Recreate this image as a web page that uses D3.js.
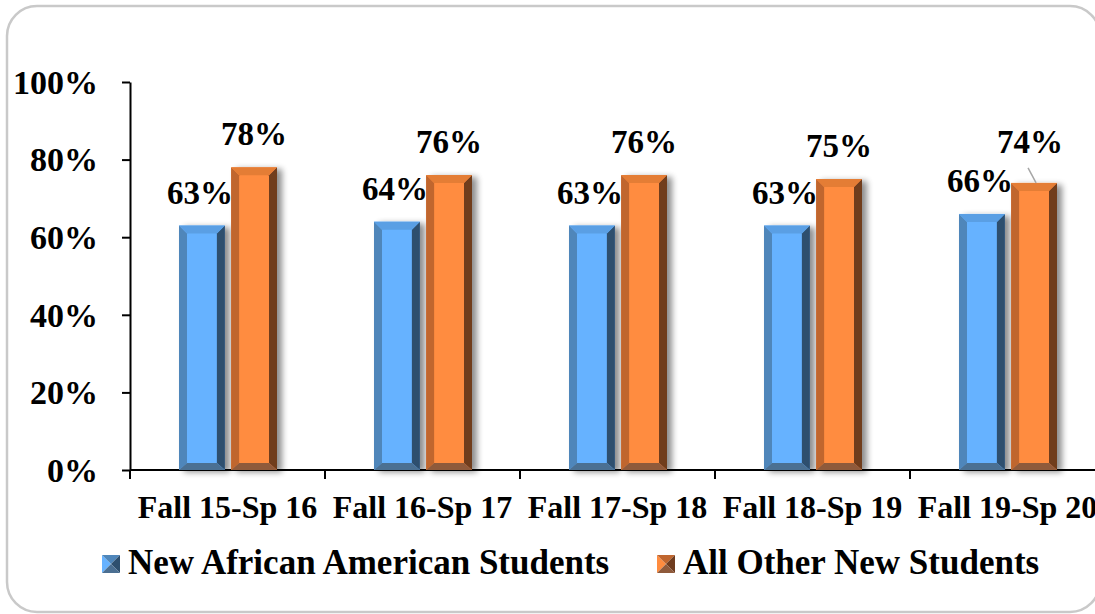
<!DOCTYPE html>
<html>
<head>
<meta charset="utf-8">
<script src="https://cdn.jsdelivr.net/npm/d3@7"></script>
<style>
  html, body { margin: 0; padding: 0; background: #ffffff; }
  svg { display: block; }
  text { font-family: "Liberation Serif", "Times New Roman", serif; font-weight: bold; fill: #000; }
</style>
</head>
<body>
<svg id="chart" width="1095" height="614"></svg>
<script>
// Retention rates by academic year
const categories = ["Fall 15-Sp 16", "Fall 16-Sp 17", "Fall 17-Sp 18", "Fall 18-Sp 19", "Fall 19-Sp 20"];
const seriesNames = ["New African American Students", "All Other New Students"];
const africanAmerican = [63, 64, 63, 63, 66];
const allOther = [78, 76, 76, 75, 74];
const yTicks = [0, 20, 40, 60, 80, 100];

// Bevelled bar palettes: face, left, right, top, bottom
const palettes = [
  { face: "#66b2ff", left: "#4f86ba", right: "#2e4f6e", top: "#5a9fe4", bottom: "#4b6f92" },
  { face: "#ff8c3f", left: "#c0662f", right: "#6f3c1f", top: "#e47d36", bottom: "#8f5a3b" }
];

const svg = d3.select("#chart");
const W = 1095, H = 614;

// Rounded frame around the chart area
svg.append("rect")
  .attr("x", 7).attr("y", 6)
  .attr("width", 1093).attr("height", 606)
  .attr("rx", 30).attr("ry", 30)
  .attr("fill", "#fff")
  .attr("stroke", "#c9c9c9").attr("stroke-width", 2.5);

const defs = svg.append("defs");
const shadow = defs.append("filter").attr("id", "barShadow")
  .attr("x", "-30%").attr("y", "-10%").attr("width", "180%").attr("height", "130%");
shadow.append("feGaussianBlur").attr("in", "SourceAlpha").attr("stdDeviation", 3).attr("result", "b");
shadow.append("feOffset").attr("in", "b").attr("dx", 5).attr("dy", 2).attr("result", "o");
shadow.append("feComponentTransfer").attr("in", "o").attr("result", "s")
  .append("feFuncA").attr("type", "linear").attr("slope", 0.45);
const merge = shadow.append("feMerge");
merge.append("feMergeNode").attr("in", "s");
merge.append("feMergeNode").attr("in", "SourceGraphic");

const plot = { left: 130, right: 1105, top: 82, bottom: 470 };

const x = d3.scaleBand().domain(categories).range([plot.left, plot.right]).padding(0);
const xInner = d3.scaleBand().domain(seriesNames)
  .range([49, 147]).paddingInner(0.12);
const y = d3.scaleLinear().domain([0, 100]).range([plot.bottom, plot.top]);

// Y axis
const yAxis = d3.axisLeft(y).tickValues(yTicks).tickFormat(d => d + "%").tickSize(8).tickSizeOuter(0);
const gy = svg.append("g").attr("transform", `translate(${plot.left},0)`).call(yAxis);
gy.select(".domain").attr("stroke", "#000").attr("stroke-width", 2);
gy.selectAll(".tick line").attr("stroke", "#000").attr("stroke-width", 2);
gy.selectAll(".tick text")
  .attr("x", -32).attr("dy", "0.33em")
  .style("font-size", "34px").style("font-family", "'Liberation Serif', serif").style("font-weight", "bold")
  .attr("fill", "#000");

// X axis with ticks on category boundaries
svg.append("line")
  .attr("x1", plot.left).attr("x2", plot.right)
  .attr("y1", plot.bottom).attr("y2", plot.bottom)
  .attr("stroke", "#000").attr("stroke-width", 2);
svg.append("g").selectAll("line")
  .data(categories)
  .join("line")
  .attr("x1", d => x(d)).attr("x2", d => x(d))
  .attr("y1", plot.bottom).attr("y2", plot.bottom + 9)
  .attr("stroke", "#000").attr("stroke-width", 2);
svg.append("g").selectAll("text")
  .data(categories)
  .join("text")
  .attr("x", d => x(d) + x.bandwidth() / 2)
  .attr("y", 518)
  .attr("text-anchor", "middle")
  .style("font-size", "32px")
  .text(d => d);

// Bars
const rows = [];
categories.forEach((c, i) => {
  rows.push({ cat: c, s: 0, v: africanAmerican[i] });
  rows.push({ cat: c, s: 1, v: allOther[i] });
});

const bevel = 8;
const barG = svg.append("g").selectAll("g")
  .data(rows)
  .join("g")
  .attr("filter", "url(#barShadow)");

barG.each(function (d) {
  const g = d3.select(this);
  const p = palettes[d.s];
  const x0 = x(d.cat) + xInner(seriesNames[d.s]);
  const w = xInner.bandwidth();
  const x1 = x0 + w;
  const y0 = y(d.v), y1 = y(0);
  const b = Math.min(bevel, w / 4);
  const bb = 7;
  g.append("rect").attr("x", x0).attr("y", y0).attr("width", w).attr("height", y1 - y0).attr("fill", p.face);
  g.append("polygon").attr("fill", p.left)
    .attr("points", [[x0, y0], [x0 + b, y0 + b], [x0 + b, y1 - bb], [x0, y1]].join(" "));
  g.append("polygon").attr("fill", p.right)
    .attr("points", [[x1, y0], [x1 - b, y0 + b], [x1 - b, y1 - bb], [x1, y1]].join(" "));
  g.append("polygon").attr("fill", p.top)
    .attr("points", [[x0, y0], [x1, y0], [x1 - b, y0 + b], [x0 + b, y0 + b]].join(" "));
  g.append("polygon").attr("fill", p.bottom)
    .attr("points", [[x0, y1], [x1, y1], [x1 - b, y1 - bb], [x0 + b, y1 - bb]].join(" "));
});

// Value labels above each bar; the last orange label sits higher with a leader line
const lift = (d, i) => (d.s === 1 && d.cat === categories[categories.length - 1]) ? 30 : 22;
const labelG = svg.append("g");
rows.forEach((d, i) => {
  const cx = x(d.cat) + xInner(seriesNames[d.s]) + xInner.bandwidth() / 2 - (d.s === 0 ? 2 : 0);
  const ly = y(d.v) - lift(d, i);
  if (lift(d, i) > 22) {
    labelG.append("line")
      .attr("x1", cx - 6).attr("y1", ly + 15)
      .attr("x2", cx + 2).attr("y2", y(d.v))
      .attr("stroke", "#a6a6a6").attr("stroke-width", 1.5);
  }
  labelG.append("text")
    .attr("x", cx - (lift(d, i) > 22 ? 4 : 0)).attr("y", ly)
    .attr("text-anchor", "middle")
    .style("font-size", "33px")
    .text(d.v + "%");
});

// Legend
const legendX = [102, 657];
const legend = svg.append("g").selectAll("g")
  .data(seriesNames)
  .join("g")
  .attr("transform", (d, i) => `translate(${legendX[i]},555)`);
legend.each(function (d, i) {
  const g = d3.select(this);
  const p = palettes[i];
  const s = 18, c = s / 2;
  g.append("polygon").attr("fill", p.face).attr("points", `0,0 ${c},${c} 0,${s}`);
  g.append("polygon").attr("fill", p.left).attr("points", `0,0 ${s},0 ${c},${c}`);
  g.append("polygon").attr("fill", p.right).attr("points", `${s},0 ${s},${s} ${c},${c}`);
  g.append("polygon").attr("fill", p.bottom).attr("points", `0,${s} ${s},${s} ${c},${c}`);
  g.append("text").attr("x", 26).attr("y", 19)
    .style("font-size", "35px")
    .text(d);
});
</script>
</body>
</html>
